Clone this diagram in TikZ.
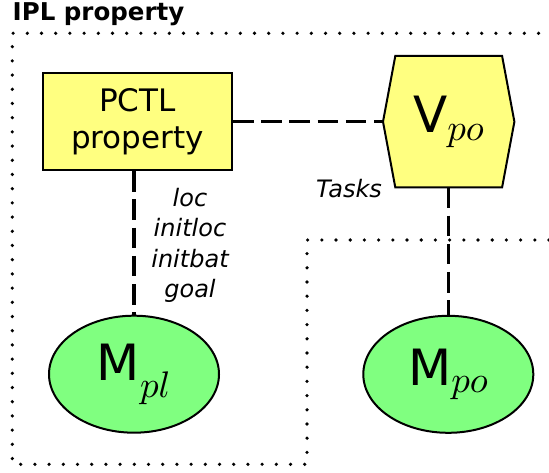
\documentclass[tikz,border=0pt]{standalone}
\usepackage{fontspec}
\setmainfont{DejaVu Sans}
\DeclareFontFamily{OML}{cmm}{\skewchar\font'177}
\DeclareFontShape{OML}{cmm}{m}{it}{<->cmmi10}{}
\DeclareMathSizes{50}{50}{37}{28}
\usetikzlibrary{shapes.geometric}
\definecolor{yfill}{RGB}{255,255,128}
\definecolor{gfill}{RGB}{128,255,128}
\tikzset{
  yellowbox/.style={draw, line width=2pt, fill=yfill, minimum width=189pt, minimum height=97pt,
    inner sep=0pt, align=center, font=\fontsize{31}{36.5}\selectfont},
  hexholder/.style={minimum width=131pt, minimum height=131pt, inner sep=0pt},
  hexshape/.style={draw, line width=2pt, fill=yfill, line join=miter},
  bigtext/.style={inner sep=0pt, font=\fontsize{50}{60}\selectfont},
  mellipse/.style={ellipse, draw, line width=2pt, fill=gfill, minimum width=170pt,
    minimum height=117pt, inner sep=0pt, font=\fontsize{50}{60}\selectfont},
  conn/.style={line width=3.2pt, dash pattern=on 20.5pt off 7.7pt},
  dotline/.style={line width=3.6pt, line cap=round, dash pattern=on 0pt off 14.2pt},
  lbl/.style={inner sep=0pt, align=center, font=\fontsize{24}{30.5}\selectfont\itshape},
  titlestyle/.style={inner sep=0pt, anchor=base west, font=\fontsize{24.5}{28}\selectfont\bfseries}
}
\begin{document}
\begin{tikzpicture}[x=1pt,y=-1pt]
\useasboundingbox (0,0) rectangle (549,473);
% IPL property region
\draw[dotline] (549,240) -- (307,240) -- (307,464.3) -- (12.3,464.3) -- (12.3,33.3) -- (549,33.3);
\node[titlestyle] (title) at (12.5,20.7) {IPL property};
% nodes
\node[yellowbox] (pctl) at (137.5,121.7) {PCTL\\property};
\node[hexholder] (v) at (448.7,121.7) {};
\filldraw[hexshape] ([xshift=12.3pt]v.north west) -- ([xshift=-12.3pt]v.north east) -- (v.east)
  -- ([xshift=-12.3pt]v.south east) -- ([xshift=12.3pt]v.south west) -- (v.west) -- cycle;
\node[bigtext] (vtext) at (v.center) {V$_{po}$};
\node[mellipse] (mpl) at (134,374.2) {M$_{pl}$};
\node[mellipse] (mpo) at (448.3,374.3) {M$_{po}$};
% connectors
\draw[conn] (pctl.east) -- (v.west);
\draw[conn] (mpl.north |- pctl.south) -- (mpl.north);
\draw[conn] (mpo.north |- v.south) -- (mpo.north);
% labels
\node[lbl] (vars) at (190,245.5) {loc\\initloc\\initbat\\goal};
\node[lbl] (tasks) at (349,189) {Tasks};
\end{tikzpicture}
\end{document}
